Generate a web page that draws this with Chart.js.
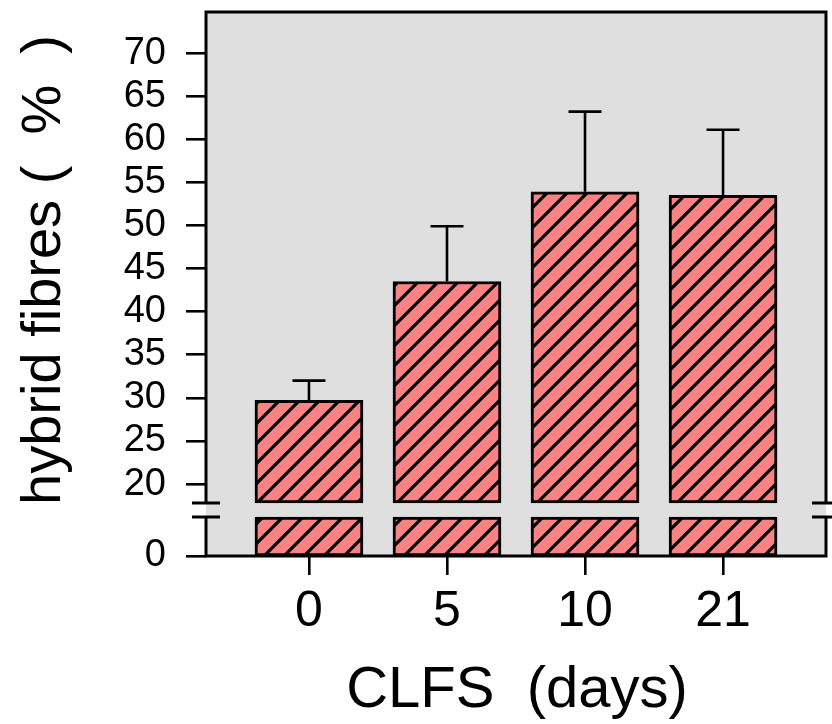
<!DOCTYPE html>
<html>
<head>
<meta charset="utf-8">
<script src="https://cdn.jsdelivr.net/npm/chart.js@4.4.0/dist/chart.umd.min.js"></script>
<style>
  html, body { margin: 0; padding: 0; background: #fff; }
</style>
</head>
<body>
<canvas id="fibreChart" width="832" height="724"></canvas>
<script>
// values
var days = ['0', '5', '10', '21'];
var hybridMean = [29.7, 43.5, 53.9, 53.5];
var hybridSd = [2.3, 6.4, 9.3, 7.6];
var yTickLabels = [0, 20, 25, 30, 35, 40, 45, 50, 55, 60, 65, 70];

// broken axis: real 0 sits at axisZero, everything from 20 up is drawn as is
var axisZero = 11.65;
var breakLow = 16.17;
var breakHigh = 17.8;
var axisTop = 74.76;

var FONT = '"Liberation Sans", Arial, sans-serif';

function toAxis(v) {
  return v === 0 ? axisZero : v;
}

// salmon fill with black "/" hatching
function hatch(ctx) {
  var n = 20;
  var c = document.createElement('canvas');
  c.width = n; c.height = n;
  var g = c.getContext('2d');
  g.fillStyle = '#f98282';
  g.fillRect(0, 0, n, n);
  g.strokeStyle = '#000';
  g.lineWidth = 3.2;
  g.beginPath();
  g.moveTo(-3, n + 3); g.lineTo(n + 3, -3);
  g.moveTo(-3, 3); g.lineTo(3, -3);
  g.moveTo(n - 3, n + 3); g.lineTo(n + 3, n - 3);
  g.stroke();
  return ctx.createPattern(c, 'repeat');
}

var framePlugin = {
  id: 'frame',
  beforeDraw: function (chart) {
    var a = chart.chartArea, c = chart.ctx;
    c.save();
    c.fillStyle = '#dfdfdf';
    c.fillRect(a.left, a.top, a.right - a.left, a.bottom - a.top);
    c.restore();
  },
  afterDatasetsDraw: function (chart) {
    var a = chart.chartArea, c = chart.ctx;
    var ys = chart.scales.y;
    var bHi = ys.getPixelForValue(breakHigh);
    var bLo = ys.getPixelForValue(breakLow);

    // error bars (upper side only)
    var meta = chart.getDatasetMeta(1);
    c.save();
    c.strokeStyle = '#000';
    c.lineWidth = 2.6;
    meta.data.forEach(function (bar, i) {
      var yTop = ys.getPixelForValue(hybridMean[i]);
      var yErr = ys.getPixelForValue(hybridMean[i] + hybridSd[i]);
      c.beginPath();
      c.moveTo(bar.x, yTop);
      c.lineTo(bar.x, yErr);
      c.moveTo(bar.x - 16.5, yErr);
      c.lineTo(bar.x + 16.5, yErr);
      c.stroke();
    });

    // box with the break on both sides
    c.lineWidth = 3;
    c.beginPath();
    c.moveTo(a.left, bHi); c.lineTo(a.left, a.top); c.lineTo(a.right, a.top); c.lineTo(a.right, bHi);
    c.moveTo(a.left, bLo); c.lineTo(a.left, a.bottom); c.lineTo(a.right, a.bottom); c.lineTo(a.right, bLo);
    [bHi, bLo].forEach(function (y) {
      c.moveTo(a.left - 14, y); c.lineTo(a.left + 14, y);
      c.moveTo(a.right - 14, y); c.lineTo(a.right + 14, y);
    });
    c.stroke();
    c.restore();
  },
  afterDraw: function (chart) {
    var c = chart.ctx;
    c.save();
    c.fillStyle = '#000';
    c.font = '56px ' + FONT;
    c.textAlign = 'center';
    c.textBaseline = 'alphabetic';
    c.translate(60, 270);
    c.rotate(-Math.PI / 2);
    c.fillText('hybrid fibres (  %  )', 0, 0);
    c.restore();

    c.save();
    c.fillStyle = '#000';
    c.font = '58px ' + FONT;
    c.textAlign = 'center';
    c.textBaseline = 'alphabetic';
    c.fillText('CLFS  (days)', 517, 707);
    c.restore();
  }
};

var ctx = document.getElementById('fibreChart').getContext('2d');
var fill = hatch(ctx);

var barStyle = {
  backgroundColor: fill,
  borderColor: '#000',
  borderWidth: 3,
  borderSkipped: false,
  barThickness: 108,
  grouped: false
};

var chart = new Chart(ctx, {
  type: 'bar',
  data: {
    datasets: [
      Object.assign({
        label: 'below break',
        data: days.map(function (d, i) { return { x: i, y: [axisZero, breakLow] }; })
      }, barStyle),
      Object.assign({
        label: 'hybrid fibres',
        data: hybridMean.map(function (m, i) { return { x: i, y: [breakHigh, m] }; })
      }, barStyle)
    ]
  },
  options: {
    responsive: false,
    animation: false,
    layout: { padding: { top: 12, right: 6, left: 0, bottom: 0 } },
    plugins: {
      legend: { display: false },
      tooltip: { enabled: false }
    },
    scales: {
      x: {
        type: 'linear',
        offset: false,
        min: -0.746,
        max: 3.746,
        border: { display: false },
        grid: { offset: false, drawOnChartArea: false, color: '#000', lineWidth: 2.6, tickLength: 19 },
        ticks: {
          color: '#000',
          font: { family: FONT, size: 50 },
          padding: 7,
          maxRotation: 0,
          autoSkip: false,
          callback: function (v) { return days[v]; }
        },
        afterBuildTicks: function (s) {
          s.ticks = days.map(function (d, i) { return { value: i }; });
        },
        afterFit: function (s) {
          s.height = 168;
          s.paddingLeft = 0;
          s.paddingRight = 0;
        }
      },
      y: {
        min: axisZero,
        max: axisTop,
        border: { display: false },
        grid: { drawOnChartArea: false, color: '#000', lineWidth: 2.6, tickLength: 20 },
        ticks: {
          color: '#000',
          font: { family: FONT, size: 38 },
          padding: 20,
          autoSkip: false,
          callback: function (v) { return v === axisZero ? '0' : v; }
        },
        afterBuildTicks: function (s) {
          s.ticks = yTickLabels.map(function (v) { return { value: toAxis(v) }; });
        },
        afterFit: function (s) {
          s.width = 206;
          s.paddingTop = 0;
          s.paddingBottom = 0;
        }
      }
    }
  },
  plugins: [framePlugin]
});
</script>
</body>
</html>
